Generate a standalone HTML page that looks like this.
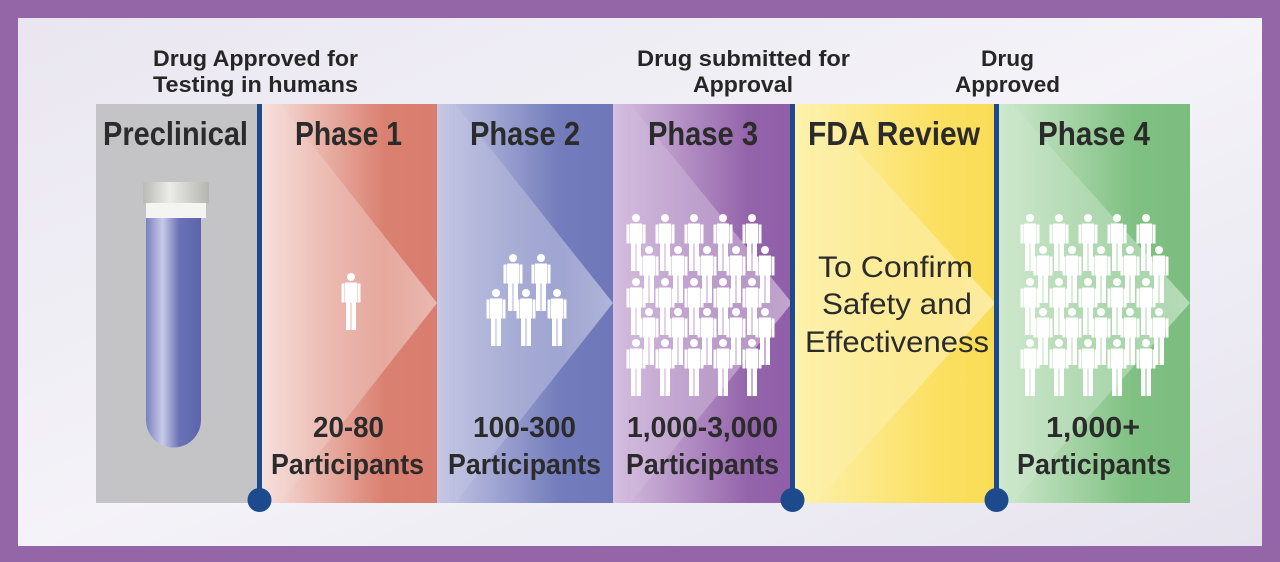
<!DOCTYPE html>
<html><head><meta charset="utf-8"><style>html,body{margin:0;padding:0;width:1280px;height:562px;overflow:hidden}</style></head>
<body>
<svg width="1280" height="562" viewBox="0 0 1280 562" xmlns="http://www.w3.org/2000/svg" font-family="Liberation Sans, sans-serif">
<defs>
<linearGradient id="bg" x1="0" y1="0" x2="1" y2="1"><stop offset="0" stop-color="#e9e6f0"/><stop offset="0.5" stop-color="#f4f3f8"/><stop offset="1" stop-color="#e6e3ee"/></linearGradient>
<linearGradient id="g1" x1="0" x2="1"><stop offset="0" stop-color="#f7e2de"/><stop offset="0.7" stop-color="#da8070"/><stop offset="1" stop-color="#d97e6e"/></linearGradient>
<linearGradient id="g2" x1="0" x2="1"><stop offset="0" stop-color="#c7c9e5"/><stop offset="0.7" stop-color="#737cbc"/><stop offset="1" stop-color="#6e78b9"/></linearGradient>
<linearGradient id="g3" x1="0" x2="1"><stop offset="0" stop-color="#d6c0e0"/><stop offset="0.75" stop-color="#9464ab"/><stop offset="1" stop-color="#8f5ea7"/></linearGradient>
<linearGradient id="g4" x1="0" x2="1"><stop offset="0" stop-color="#fdf2b0"/><stop offset="0.7" stop-color="#fbe062"/><stop offset="1" stop-color="#f9dc55"/></linearGradient>
<linearGradient id="g5" x1="0" x2="1"><stop offset="0" stop-color="#d2ead0"/><stop offset="0.7" stop-color="#80c183"/><stop offset="1" stop-color="#7bbd7f"/></linearGradient>
<linearGradient id="tri" x1="0" x2="1"><stop offset="0" stop-color="#fff" stop-opacity="0.05"/><stop offset="1" stop-color="#fff" stop-opacity="0.45"/></linearGradient>
<linearGradient id="tube" x1="0" x2="1"><stop offset="0" stop-color="#7a80c0"/><stop offset="0.3" stop-color="#c8cbe6"/><stop offset="0.6" stop-color="#6b72b6"/><stop offset="1" stop-color="#5c64ab"/></linearGradient>
<linearGradient id="cap" x1="0" x2="1"><stop offset="0" stop-color="#b9bab4"/><stop offset="0.4" stop-color="#ececE8"/><stop offset="1" stop-color="#b4b5af"/></linearGradient>
<symbol id="p" viewBox="0 0 20 57">
<circle cx="10" cy="4" r="4" fill="#fff"/>
<path d="M4 9.5h12v20H4z M0.5 10.5h3v19h-3z M16.5 10.5h3v19h-3z M5 29h4.5v28H5z M10.5 29H15v28h-4.5z" fill="#fff"/>
</symbol>
</defs>
<rect width="1280" height="562" fill="#9466a8"/>
<rect x="18" y="18" width="1244" height="528" fill="url(#bg)"/>
<rect x="96" y="104" width="164" height="399" fill="#c4c4c6"/>
<rect x="262" y="104" width="175" height="399" fill="url(#g1)"/>
<rect x="437" y="104" width="176" height="399" fill="url(#g2)"/>
<rect x="613" y="104" width="180" height="399" fill="url(#g3)"/>
<rect x="793" y="104" width="203" height="399" fill="url(#g4)"/>
<rect x="996" y="104" width="194" height="399" fill="url(#g5)"/>
<polygon points="280,104 437,303 280,503" fill="url(#tri)"/>
<polygon points="455,104 613,303 455,503" fill="url(#tri)"/>
<polygon points="630,104 792,303 630,503" fill="url(#tri)"/>
<polygon points="815,104 995,303 815,503" fill="url(#tri)"/>
<polygon points="1012,104 1190,303 1012,503" fill="url(#tri)"/>
<rect x="257" y="104" width="5" height="396" fill="#1d4a8c"/>
<circle cx="259.5" cy="500" r="12" fill="#1d4a8c"/>
<rect x="790" y="104" width="5" height="396" fill="#1d4a8c"/>
<circle cx="792.5" cy="500" r="12" fill="#1d4a8c"/>
<rect x="994" y="104" width="5" height="396" fill="#1d4a8c"/>
<circle cx="996.5" cy="500" r="12" fill="#1d4a8c"/>
<rect x="143" y="182" width="66" height="22" rx="2" fill="url(#cap)"/>
<rect x="146" y="203" width="60" height="15" fill="#f4f5f2"/>
<path d="M146 218h55v202a27.5 27.5 0 0 1 -55 0z" fill="url(#tube)"/>
<g font-weight="bold" font-size="22" fill="#262626">
<text x="153" y="66" textLength="205" lengthAdjust="spacingAndGlyphs">Drug Approved for</text>
<text x="153" y="92" textLength="205" lengthAdjust="spacingAndGlyphs">Testing in humans</text>
<text x="637" y="66" textLength="213" lengthAdjust="spacingAndGlyphs">Drug submitted for</text>
<text x="693" y="92" textLength="100" lengthAdjust="spacingAndGlyphs">Approval</text>
<text x="981" y="66" textLength="53" lengthAdjust="spacingAndGlyphs">Drug</text>
<text x="955" y="92" textLength="105" lengthAdjust="spacingAndGlyphs">Approved</text>
</g>
<g font-weight="bold" font-size="33" fill="#2b2b2b">
<text x="103" y="145" textLength="145" lengthAdjust="spacingAndGlyphs">Preclinical</text>
<text x="295" y="145" textLength="107" lengthAdjust="spacingAndGlyphs">Phase 1</text>
<text x="470" y="145" textLength="110" lengthAdjust="spacingAndGlyphs">Phase 2</text>
<text x="648" y="145" textLength="110" lengthAdjust="spacingAndGlyphs">Phase 3</text>
<text x="808" y="145" textLength="172" lengthAdjust="spacingAndGlyphs">FDA Review</text>
<text x="1038" y="145" textLength="112" lengthAdjust="spacingAndGlyphs">Phase 4</text>
</g>
<g font-weight="bold" font-size="29" fill="#2b2b2b">
<text x="313" y="437" textLength="71" lengthAdjust="spacingAndGlyphs">20-80</text>
<text x="271" y="474" textLength="153" lengthAdjust="spacingAndGlyphs">Participants</text>
<text x="473" y="437" textLength="103" lengthAdjust="spacingAndGlyphs">100-300</text>
<text x="448" y="474" textLength="153" lengthAdjust="spacingAndGlyphs">Participants</text>
<text x="627" y="437" textLength="151" lengthAdjust="spacingAndGlyphs">1,000-3,000</text>
<text x="626" y="474" textLength="153" lengthAdjust="spacingAndGlyphs">Participants</text>
<text x="1046" y="437" textLength="94" lengthAdjust="spacingAndGlyphs">1,000+</text>
<text x="1017" y="474" textLength="154" lengthAdjust="spacingAndGlyphs">Participants</text>
</g>
<g font-size="30" fill="#2b2b2b">
<text x="818" y="277" textLength="155" lengthAdjust="spacingAndGlyphs">To Confirm</text>
<text x="822" y="314" textLength="150" lengthAdjust="spacingAndGlyphs">Safety and</text>
<text x="805" y="352" textLength="184" lengthAdjust="spacingAndGlyphs">Effectiveness</text>
</g>
<use href="#p" x="341" y="273" width="20" height="57"/>
<use href="#p" x="503" y="254" width="20" height="57"/>
<use href="#p" x="531" y="254" width="20" height="57"/>
<use href="#p" x="486" y="289" width="20" height="57"/>
<use href="#p" x="516" y="289" width="20" height="57"/>
<use href="#p" x="547" y="289" width="20" height="57"/>
<g id="crowd">
<use href="#p" x="626" y="214" width="20" height="57"/><use href="#p" x="655" y="214" width="20" height="57"/><use href="#p" x="684" y="214" width="20" height="57"/><use href="#p" x="713" y="214" width="20" height="57"/><use href="#p" x="742" y="214" width="20" height="57"/>
<use href="#p" x="639" y="246" width="20" height="57"/><use href="#p" x="668" y="246" width="20" height="57"/><use href="#p" x="697" y="246" width="20" height="57"/><use href="#p" x="726" y="246" width="20" height="57"/><use href="#p" x="755" y="246" width="20" height="57"/>
<use href="#p" x="626" y="278" width="20" height="57"/><use href="#p" x="655" y="278" width="20" height="57"/><use href="#p" x="684" y="278" width="20" height="57"/><use href="#p" x="713" y="278" width="20" height="57"/><use href="#p" x="742" y="278" width="20" height="57"/>
<use href="#p" x="639" y="308" width="20" height="57"/><use href="#p" x="668" y="308" width="20" height="57"/><use href="#p" x="697" y="308" width="20" height="57"/><use href="#p" x="726" y="308" width="20" height="57"/><use href="#p" x="755" y="308" width="20" height="57"/>
<use href="#p" x="626" y="339" width="20" height="57"/><use href="#p" x="655" y="339" width="20" height="57"/><use href="#p" x="684" y="339" width="20" height="57"/><use href="#p" x="713" y="339" width="20" height="57"/><use href="#p" x="742" y="339" width="20" height="57"/>
</g>
<use href="#crowd" x="394" y="0"/>
</svg>
</body></html>
